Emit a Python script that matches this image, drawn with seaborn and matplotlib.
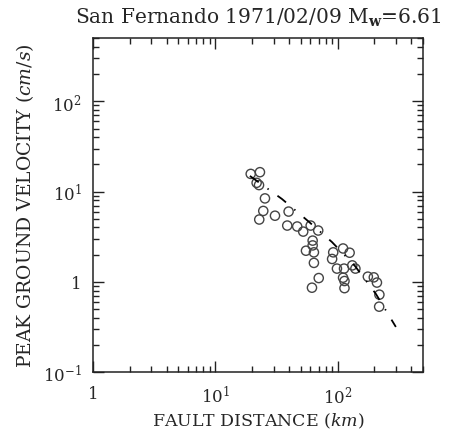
import numpy as np
import pandas as pd
import matplotlib
matplotlib.use("Agg")
import matplotlib.pyplot as plt
import seaborn as sns
from matplotlib.ticker import LogLocator, FixedLocator, FixedFormatter, NullFormatter

# ---- data ----
dist_km = [19.5, 23.2, 21.8, 22.8, 25.5, 24.7, 22.9, 30.8, 39.8, 38.8,
           46.8, 52.4, 60.3, 69.5, 62.6, 62.6, 55.2, 64.1, 64.1, 70.2,
           61.8, 111, 125.6, 92.2, 90.3, 98.9, 113, 132, 140, 111,
           114, 114, 177, 198, 210, 220, 219]
pgv_cms = [15.7, 16.4, 12.5, 11.8, 8.4, 6.1, 4.9, 5.4, 6.0, 4.2,
           4.1, 3.6, 4.2, 3.7, 2.86, 2.53, 2.21, 2.12, 1.62, 1.10,
           0.86, 2.34, 2.10, 2.12, 1.79, 1.40, 1.40, 1.52, 1.40, 1.11,
           1.02, 0.85, 1.14, 1.12, 0.98, 0.72, 0.53]

fit_dist = [19.2, 35.1, 57.3, 90.0, 138.7, 206, 300]
fit_pgv = [14.9, 8.28, 4.72, 2.76, 1.50, 0.733, 0.316]

x_ticks = [1, 10, 100]
x_ticklabels = ["1", "$10^{1}$", "$10^{2}$"]
y_ticks = [0.1, 1, 10, 100]
y_ticklabels = ["$10^{-1}$", "1", "$10^{1}$", "$10^{2}$"]

title = r"San Fernando 1971/02/09 M$_{\mathbf{w}}$=6.61"
xlabel = r"FAULT DISTANCE ($km$)"
ylabel = r"PEAK GROUND VELOCITY ($cm/s$)"

# ---- style ----
sns.set_style("ticks")
plt.rcParams["font.family"] = ["DejaVu Serif"]
plt.rcParams["mathtext.fontset"] = "dejavuserif"

pts = pd.DataFrame({"dist": dist_km, "pgv": pgv_cms})
fit = pd.DataFrame({"dist": fit_dist, "pgv": fit_pgv})

fig = plt.figure(figsize=(4.54, 4.35), dpi=100)
ax = fig.add_axes([0.2048, 0.1425, 0.7269, 0.7672])

sns.scatterplot(data=pts, x="dist", y="pgv", ax=ax, marker="o", s=44,
                facecolor="none", edgecolor="#444444", linewidth=1.0, zorder=3)
sns.lineplot(data=fit, x="dist", y="pgv", ax=ax, color="black", lw=1.3,
             linestyle=(0, (6.0, 6.0, 0.8, 6.0)), zorder=4)

ax.set_xscale("log")
ax.set_yscale("log")
ax.set_xlim(1, 500)
ax.set_ylim(0.1, 500)

ax.xaxis.set_major_locator(FixedLocator(x_ticks))
ax.xaxis.set_major_formatter(FixedFormatter(x_ticklabels))
ax.yaxis.set_major_locator(FixedLocator(y_ticks))
ax.yaxis.set_major_formatter(FixedFormatter(y_ticklabels))
ax.xaxis.set_minor_locator(LogLocator(base=10, subs=np.arange(2, 10)))
ax.yaxis.set_minor_locator(LogLocator(base=10, subs=np.arange(2, 10)))
ax.xaxis.set_minor_formatter(NullFormatter())
ax.yaxis.set_minor_formatter(NullFormatter())

ax.tick_params(which="both", direction="in", top=True, right=True,
               color="#222222", width=1.0)
ax.tick_params(which="major", length=8, labelsize=12)
ax.tick_params(axis="x", which="major", pad=9)
ax.tick_params(axis="y", which="major", pad=8)
ax.tick_params(which="minor", length=4)

for s in ax.spines.values():
    s.set_linewidth(1.1)
    s.set_color("#222222")

ax.set_xlabel(xlabel, fontsize=12.5, labelpad=3)
ax.set_ylabel(ylabel, fontsize=13.5, labelpad=5)
ax.set_title(title, fontsize=14.5, pad=11)

fig.savefig("out.png", dpi=100, facecolor="white")
